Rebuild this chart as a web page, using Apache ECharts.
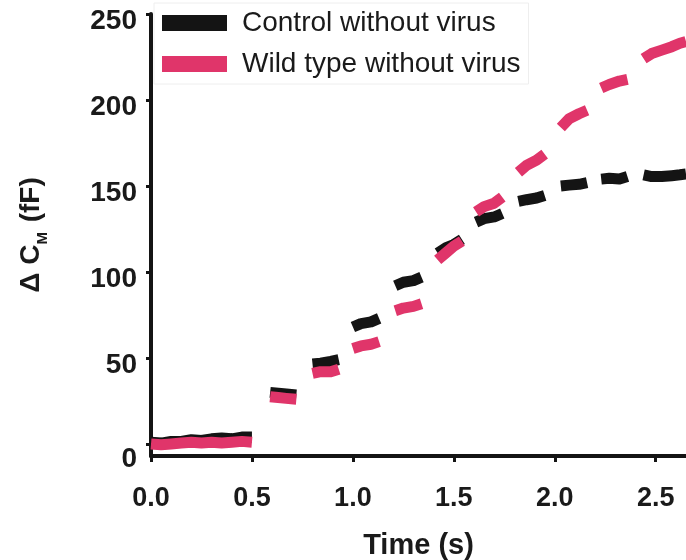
<!DOCTYPE html>
<html>
<head>
<meta charset="utf-8">
<script src="https://cdn.jsdelivr.net/npm/echarts@6/dist/echarts.min.js"></script>
<style>html,body{margin:0;padding:0;background:#fff;}#c{width:686px;height:560px;}</style>
</head>
<body>
<div id="c"></div>
<script>
// Time points (s); null-valued points break the trace between recording segments
const timePoints = [
  0.00,0.05,0.10,0.15,0.20,0.25,0.30,0.35,0.40,0.45,0.50, 0.55,
  0.59,0.63,0.67,0.72, 0.76,
  0.80,0.84,0.89,0.93, 0.96,
  1.00,1.04,1.09,1.13, 1.17,
  1.21,1.25,1.30,1.34, 1.38,
  1.42,1.46,1.50,1.54, 1.57,
  1.61,1.65,1.70,1.74, 1.78,
  1.82,1.86,1.91,1.95, 1.99,
  2.03,2.07,2.12,2.16, 2.20,
  2.23,2.27,2.32,2.36, 2.40,
  2.44,2.48,2.53,2.58,2.62,2.65
];
const controlValues = [
  1,0.5,1.5,1.5,2.5,2,3,3.5,3,4,4, null,
  30,29.5,29,28.5, null,
  46.5,47,48,49, null,
  68,70,71,73, null,
  92,94,95,97, null,
  111,114,116,119, null,
  129,131,132,134, null,
  141,142,143,144.5, null,
  150,150.5,151,152, null,
  154,154.5,154,155.5, null,
  156.5,155.5,155.5,156,156.5,157
];
const wildTypeValues = [
  0,-0.5,0,0.5,1,0.5,1,0.5,1,1.5,1, null,
  27.5,27,26.5,26, null,
  41,42,42,43.5, null,
  55.5,57,58,59.5, null,
  77.5,79,80,81.5, null,
  107,111,115,118, null,
  135,138,140,143.5, null,
  158,162,165,168.5, null,
  184,189,192,194, null,
  207,209,211,212, null,
  224,227,229,231,233,234
];
const seriesNames = ['Control without virus', 'Wild type without virus'];
const xTicks = [0, 0.5, 1.0, 1.5, 2.0, 2.5];
const yTicks = [0, 50, 100, 150, 200, 250];

const colors = ['#141414', '#e0356a'];
const FONT = 'Liberation Sans, Arial, sans-serif';
function pairs(vals) { return timePoints.map((t, i) => [t, vals[i]]); }

const chart = echarts.init(document.getElementById('c'));
chart.setOption({
  animation: false,
  backgroundColor: '#ffffff',
  grid: { left: 151, right: 0, top: 14, bottom: 104, containLabel: false, outerBoundsMode: 'none' },
  legend: {
    left: 154, top: 3,
    orient: 'vertical',
    icon: 'rect',
    itemWidth: 65, itemHeight: 16, itemGap: 13,
    padding: [6, 8, 6, 8],
    borderColor: '#eeeeee', borderWidth: 1,
    textStyle: { fontFamily: FONT, fontSize: 28, lineHeight: 28, color: '#1a1a1a', padding: [0, 0, 0, 10] },
    data: seriesNames
  },
  xAxis: {
    type: 'value', min: 0, max: 2.65,
    name: 'Time (s)', nameLocation: 'middle', nameGap: 75,
    nameTextStyle: { fontFamily: FONT, fontWeight: 'bold', fontSize: 29, color: '#1a1a1a' },
    axisLine: { onZero: false, lineStyle: { color: '#141414', width: 4 } },
    axisTick: { show: true, length: 6, lineStyle: { color: '#141414', width: 3 }, customValues: xTicks },
    axisLabel: { customValues: xTicks, formatter: v => v.toFixed(1), margin: 29,
      fontFamily: FONT, fontWeight: 'bold', fontSize: 27, color: '#1a1a1a' },
    splitLine: { show: false }
  },
  yAxis: {
    type: 'value', min: -7, max: 250,
    name: '{d|Δ C}{sub|M}{d| (fF)}', nameLocation: 'middle', nameGap: 106, nameRotate: 90,
    nameTextStyle: {
      rich: {
        d: { fontFamily: FONT, fontWeight: 'bold', fontSize: 28, color: '#1a1a1a', verticalAlign: 'bottom' },
        sub: { fontFamily: FONT, fontWeight: 'bold', fontSize: 15, color: '#1a1a1a', verticalAlign: 'bottom', padding: [0, 2, -5, 0] }
      }
    },
    axisLine: { show: true, onZero: false, lineStyle: { color: '#141414', width: 4 } },
    axisTick: { show: true, length: 5, lineStyle: { color: '#141414', width: 3 }, customValues: yTicks },
    axisLabel: { customValues: yTicks, margin: 14,
      formatter: v => v === 0 ? '{z|0}' : '{n|' + v + '}',
      rich: {
        n: { fontFamily: FONT, fontWeight: 'bold', fontSize: 28, color: '#1a1a1a', padding: [14, 0, 0, 0] },
        z: { fontFamily: FONT, fontWeight: 'bold', fontSize: 28, color: '#1a1a1a', padding: [30, 0, 0, 0] }
      } },
    splitLine: { show: false }
  },
  series: [
    { name: seriesNames[0], type: 'line', data: pairs(controlValues), showSymbol: false, connectNulls: false,
      itemStyle: { color: colors[0] }, lineStyle: { color: colors[0], width: 11, cap: 'butt', join: 'round' } },
    { name: seriesNames[1], type: 'line', data: pairs(wildTypeValues), showSymbol: false, connectNulls: false,
      itemStyle: { color: colors[1] }, lineStyle: { color: colors[1], width: 11, cap: 'butt', join: 'round' } }
  ]
});
</script>
</body>
</html>
